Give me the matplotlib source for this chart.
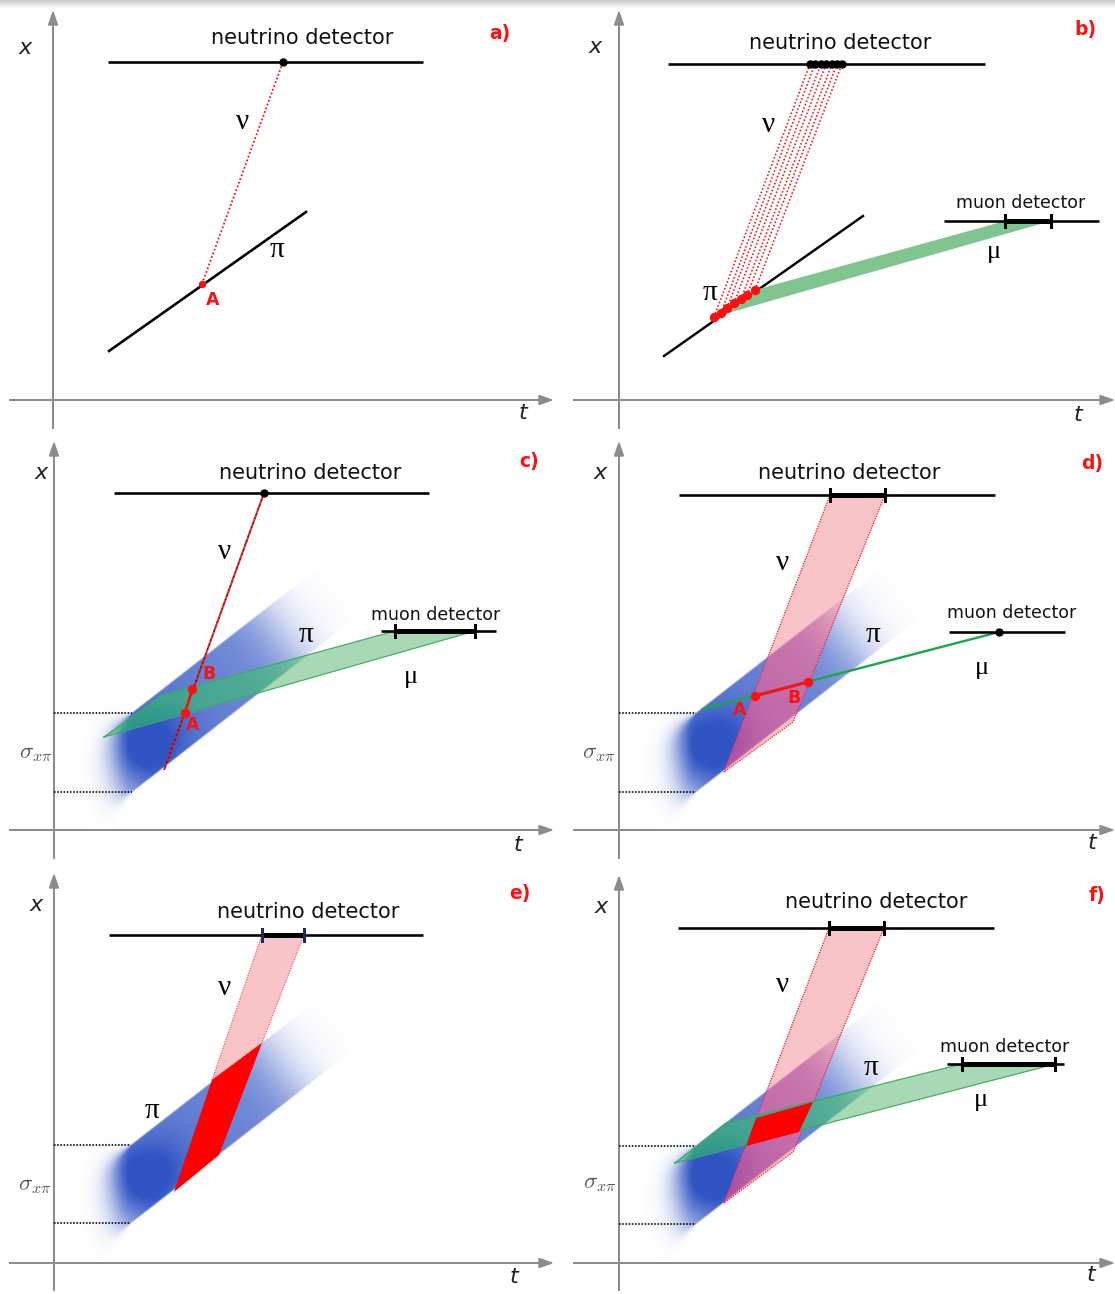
import numpy as np
import matplotlib.pyplot as plt
from matplotlib.patches import Polygon

plt.rcParams['mathtext.fontset'] = 'cm'

W, H = 1115, 1294

## ------------------------------------------------------------ ##
##  Everything in pixel units          ##
##  (x to the right, y downwards), one entry per panel a..f      ##
## ------------------------------------------------------------ ##
panel_tags = ['a)', 'b)', 'c)', 'd)', 'e)', 'f)']
vert_axis  = [(53, 428, 12), (619, 428, 12), (54, 858, 443),
              (619, 858, 443), (54, 1290, 875), (619, 1290, 877)]      # x, y bottom, y tip
horiz_axis = [(400, 10, 552), (400, 574, 1113), (830, 10, 552),
              (830, 574, 1113), (1263, 10, 552), (1263, 574, 1113)]    # y, x left, x tip
x_lab = [(25, 48), (595, 47), (41, 473), (600, 473), (36, 905), (601, 907)]
t_lab = [(523, 413), (1078, 415), (518, 845), (1092, 843), (514, 1277), (1091, 1275)]
tag_pos = [(500, 33), (1085, 30), (529, 462), (1092, 463), (520, 893), (1097, 895)]

# neutrino detector: text centre, line (x0, x1, y)
nu_det_text = [(302, 38), (840, 43), (310, 473), (849, 473), (308, 912), (876, 902)]
nu_det_line = [(108, 423, 62), (668, 985, 64), (114, 429, 493),
               (679, 995, 495), (109, 423, 935), (678, 994, 928)]
nu_det_hit = {'d': (830, 885), 'e': (262, 304), 'f': (829, 884)}   # measured intervals

nu_lab = [(243, 122), (769, 125), (225, 552), (783, 563), (225, 988), (782, 985)]
pi_lab = [(277, 250), (710, 293), (306, 635), (873, 635), (152, 1111), (871, 1068)]
mu_lab = {'b': (994, 252), 'c': (411, 677), 'd': (982, 668), 'f': (981, 1100)}

# muon detector: text centre, line (x0, x1, y), measured interval
mu_det_text = {'b': (1021, 203), 'c': (436, 615), 'd': (1012, 613), 'f': (1005, 1047)}
mu_det_line = {'b': (944, 1099, 221), 'c': (381, 496, 631), 'd': (949, 1065, 632), 'f': (947, 1064, 1064)}
mu_det_hit = {'b': (1005, 1051), 'c': (395, 475), 'f': (962, 1055)}

# panel a: single pion track and one decay point A
a_pion_x, a_pion_y = [109, 306], [351, 212]
a_decay = (202, 284)
a_hit = (283, 62)

# panel b: several decay points and their neutrino hits
b_pion_x, b_pion_y = [664, 863], [356, 216]
b_decay_x = [714, 721, 727, 734, 741, 747, 755]
b_decay_y = [317, 313, 308, 303, 299, 295, 290]
b_hit_x = [810, 815, 821, 826, 832, 837, 842]
b_hit_y = 64
b_mu_band = [(714, 317), (755, 290), (1005, 221), (1051, 221)]

# pion bunch strip: x of sigma marks, upper y, lower y (panels c..f)
strip = {'c': (132, 713, 792), 'd': (696, 713, 792), 'e': (131, 1145, 1223), 'f': (696, 1146, 1224)}
sigma_lab = {'c': (36, 753), 'd': (599, 753), 'e': (35, 1185), 'f': (600, 1183)}

# panel c: single neutrino line, muon band, points A and B
c_nu_x, c_nu_y = [164, 264], [770, 493]
c_A, c_B = (185, 713), (192, 689)
c_mu_band = [(104, 737), (162, 695), (395, 631), (475, 631)]

# panel d: neutrino band, muon line
d_nu_band = [(830, 495), (885, 495), (793, 722), (724, 772)]
d_mu_x, d_mu_y = [703, 999], [709, 632]
d_A, d_B = (755, 696), (808, 682)

# panel e, f: bands and their intersection
e_nu_band = [(262, 935), (304, 935), (262, 1043), (212, 1080)]
e_cross = [(212, 1080), (262, 1043), (219, 1155), (174, 1192)]
f_nu_band = [(829, 928), (884, 928), (793, 1152), (724, 1203)]
f_mu_band = [(675, 1163), (726, 1123), (962, 1064), (1055, 1064)]
f_cross = [(756, 1118), (813, 1102), (799, 1132), (746, 1146)]

letter_A = {'a': (213, 300), 'c': (193, 725), 'd': (740, 710)}
letter_B = {'c': (209, 674), 'd': (794, 698)}

RED = '#ff1010'
BLUE = (0.19, 0.33, 0.77)
TEAL = (0.16, 0.59, 0.53)
PURPLE = (0.69, 0.31, 0.63)
PINK = '#f9c4c7'
LGREEN = '#a9d9b4'
GREY = '#8c8c8c'

fig = plt.figure(figsize=(W / 100, H / 100), dpi=100)
ax = fig.add_axes([0, 0, 1, 1])
ax.set_xlim(0, W)
ax.set_ylim(H, 0)
ax.axis('off')

PT = 72 / 100   # points per pixel


def pion_blob(key, rgb, slope=-0.78):
    # fuzzy gaussian bunch, clipped to the pion strip
    xe, yu, yl = strip[key]
    x0, x1, y0, y1 = xe - 110, xe + 250, yu - 230, yl + 70
    X, Y = np.meshgrid(np.arange(x0, x1) + 0.5, np.arange(y0, y1) + 0.5)
    mx, my = xe, (yu + yl) / 2
    c = 1 / np.hypot(1, slope)
    dx, dy = c, slope * c
    u = (X - mx) * dx + (Y - my) * dy
    v = (X - mx) * (-dy) + (Y - my) * dx
    hw = (yl - yu) / 2 * c
    u0 = 15
    left = np.clip(xe - X, 0, None)          # distance beyond the sigma marks
    soft = 0.7 + 0.4 * left
    across = 0.5 * (1 - np.tanh((np.abs(v) - hw) / soft))
    cap = np.exp(-left ** 2 / (2 * 20 ** 2))
    low = 0.8 * np.exp(-(u - u0) ** 2 / (2 * 40 ** 2))
    high = (0.8 - 0.1 * (u - u0) / 150) / (1 + np.exp((u - 190) / 16))
    core = 0.32 * np.exp(-(u - u0) ** 2 / (2 * 30 ** 2) - (v - 4) ** 2 / (2 * 22 ** 2))
    alpha = across * cap * (np.where(u < u0, low, high) + core)
    img = np.zeros(alpha.shape + (4,))
    img[..., :3] = rgb
    img[..., 3] = np.clip(alpha, 0, 1)
    return img, (x0, x1, y1, y0)


def draw_blob(key, rgb, z, clip=None):
    img, ext = pion_blob(key, rgb)
    im = ax.imshow(img, extent=ext, origin='upper', interpolation='bilinear', zorder=z)
    if clip is not None:
        im.set_clip_path(clip)


def band(pts, face, z, edge=None, dotted=False):
    p = Polygon(pts, closed=True, facecolor=face, edgecolor='none', zorder=z)
    ax.add_patch(p)
    if edge is not None:
        xs = [q[0] for q in pts] + [pts[0][0]]
        ys = [q[1] for q in pts] + [pts[0][1]]
        ax.plot(xs, ys, color=edge, lw=0.9, ls=(0, (1, 1)) if dotted else '-', zorder=z + 0.1)
    return p


def detector(x0, x1, y, z=8):
    ax.plot([x0, x1], [y, y], color='black', lw=2.6 * PT, solid_capstyle='butt', zorder=z)


def interval(xa, xb, y, tick='black', z=8):
    ax.plot([xa, xb], [y, y], color='black', lw=5 * PT, solid_capstyle='butt', zorder=z)
    for xx in (xa, xb):
        ax.plot([xx, xx], [y - 6, y + 6], color=tick, lw=3 * PT, zorder=z + 0.1)


# top shadow of the screenshot
shade = np.zeros((9, 1, 4))
shade[..., :3] = 0.55
shade[:, 0, 3] = np.linspace(0.45, 0.0, 9)
ax.imshow(shade, extent=(0, W, 9, 0), origin='upper', aspect='auto', zorder=0)

# axes, arrows, labels
for i, tag in enumerate(panel_tags):
    xv, yb, yt = vert_axis[i]
    yh, xl, xr = horiz_axis[i]
    ax.plot([xv, xv], [yb, yt + 10], color=GREY, lw=2 * PT, zorder=1)
    ax.add_patch(Polygon([(xv - 4.5, yt + 13), (xv + 4.5, yt + 13), (xv, yt)], color=GREY, zorder=1))
    ax.plot([xl, xr - 10], [yh, yh], color=GREY, lw=2 * PT, zorder=1)
    ax.add_patch(Polygon([(xr - 13, yh - 4.5), (xr - 13, yh + 4.5), (xr, yh)], color=GREY, zorder=1))
    ax.text(*x_lab[i], 'x', fontsize=16, style='italic', ha='center', va='center', color='#222222')
    ax.text(*t_lab[i], 't', fontsize=16, style='italic', ha='center', va='center', color='#222222')
    ax.text(*tag_pos[i], tag, fontsize=13.5, fontweight='bold', color=RED, ha='center', va='center')
    ax.text(*nu_det_text[i], 'neutrino detector', fontsize=15, ha='center', va='center', color='#111111')
    detector(*nu_det_line[i])
    ax.text(*nu_lab[i], 'ν', fontsize=21, family='Liberation Serif', ha='center', va='center', zorder=9)
    ax.text(*pi_lab[i], 'π', fontsize=21, family='Liberation Serif', ha='center', va='center', zorder=9)

for k in mu_lab:
    ax.text(*mu_lab[k], 'μ', fontsize=19, family='Liberation Serif', ha='center', va='center', zorder=9)
    ax.text(*mu_det_text[k], 'muon detector', fontsize=12.5, ha='center', va='center', color='#111111')
    detector(*mu_det_line[k])
for k in mu_det_hit:
    interval(*mu_det_hit[k], mu_det_line[k][2])

# sigma marks of the pion bunch
for k in strip:
    xe, yu, yl = strip[k]
    x_axis = vert_axis[panel_tags.index(k + ')')][0]
    for yy in (yu, yl):
        ax.plot([x_axis, xe], [yy, yy], color='black', lw=1.6 * PT, ls=(0, (1, 1)), zorder=2)
    ax.text(*sigma_lab[k], r'$\sigma_{x\pi}$', fontsize=16.5, color='#555555', ha='center', va='center')

# ---- panel a ----
ax.plot(a_pion_x, a_pion_y, color='black', lw=2.6 * PT, zorder=3)
ax.plot([a_decay[0], a_hit[0]], [a_decay[1], a_hit[1]], color=RED, lw=1.8 * PT, ls=(0, (1, 1.2)), zorder=4)
ax.plot(*a_decay, 'o', color=RED, ms=6 * PT, zorder=5)
ax.plot(*a_hit, 'o', color='black', ms=7 * PT, zorder=9)

# ---- panel b ----
ax.plot(b_pion_x, b_pion_y, color='black', lw=2.4 * PT, zorder=3)
band(b_mu_band, '#80c48f', 4)
for xd, yd, xh in zip(b_decay_x, b_decay_y, b_hit_x):
    ax.plot([xd, xh], [yd, b_hit_y], color=RED, lw=1.6 * PT, ls=(0, (1, 1.3)), zorder=5)
ax.plot(b_decay_x, b_decay_y, 'o', color=RED, ms=8 * PT, zorder=6, ls='none')
ax.plot(b_hit_x, [b_hit_y] * len(b_hit_x), 'o', color='black', ms=7 * PT, zorder=9, ls='none')

# ---- panel c ----
draw_blob('c', BLUE, 1.5)
pc = band(c_mu_band, LGREEN, 3, edge='#45b060')
draw_blob('c', TEAL, 3.2, clip=pc)
ax.plot(c_nu_x, c_nu_y, color='#7a1818', lw=2.0 * PT, ls=(1.2, (1.2, 1.2)), zorder=4)
ax.plot(c_nu_x, c_nu_y, color=RED, lw=2.0 * PT, ls=(0, (1.2, 1.2)), zorder=4.1)
ax.plot([c_A[0], c_B[0]], [c_A[1], c_B[1]], color=RED, lw=2.4 * PT, zorder=5)
ax.plot([c_A[0], c_B[0]], [c_A[1], c_B[1]], 'o', color=RED, ms=8 * PT, zorder=5, ls='none')
ax.plot(c_nu_x[1], c_nu_y[1], 'o', color='black', ms=7 * PT, zorder=9)

# ---- panel d ----
draw_blob('d', BLUE, 1.5)
pd = band(d_nu_band, PINK, 3, edge=RED, dotted=True)
draw_blob('d', PURPLE, 3.2, clip=pd)
ax.plot(d_mu_x, d_mu_y, color='#1aa84a', lw=2.4 * PT, zorder=4)
ax.plot([d_A[0], d_B[0]], [d_A[1], d_B[1]], color=RED, lw=3 * PT, zorder=5)
ax.plot([d_A[0], d_B[0]], [d_A[1], d_B[1]], 'o', color=RED, ms=8 * PT, zorder=5, ls='none')
ax.plot(d_mu_x[1], d_mu_y[1], 'o', color='black', ms=7 * PT, zorder=9)
interval(*nu_det_hit['d'], nu_det_line[3][2])

# ---- panel e ----
draw_blob('e', BLUE, 1.5)
band(e_nu_band, PINK, 3, edge='#f06070', dotted=True)
band(e_cross, '#ff0000', 4)
interval(*nu_det_hit['e'], nu_det_line[4][2], tick='#1a2d5e')

# ---- panel f ----
draw_blob('f', BLUE, 1.5)
pf = band(f_nu_band, PINK, 3, edge=RED, dotted=True)
draw_blob('f', PURPLE, 3.2, clip=pf)
pg = band(f_mu_band, LGREEN, 3.5, edge='#45b060')
draw_blob('f', TEAL, 3.6, clip=pg)
band(f_cross, '#ff0000', 4)
interval(*nu_det_hit['f'], nu_det_line[5][2])

# letters A and B
for k in letter_A:
    ax.text(*letter_A[k], 'A', fontsize=12.5, fontweight='bold', color=RED, ha='center', va='center', zorder=9)
for k in letter_B:
    ax.text(*letter_B[k], 'B', fontsize=12.5, fontweight='bold', color=RED, ha='center', va='center', zorder=9)

fig.savefig('out.png', dpi=100)
